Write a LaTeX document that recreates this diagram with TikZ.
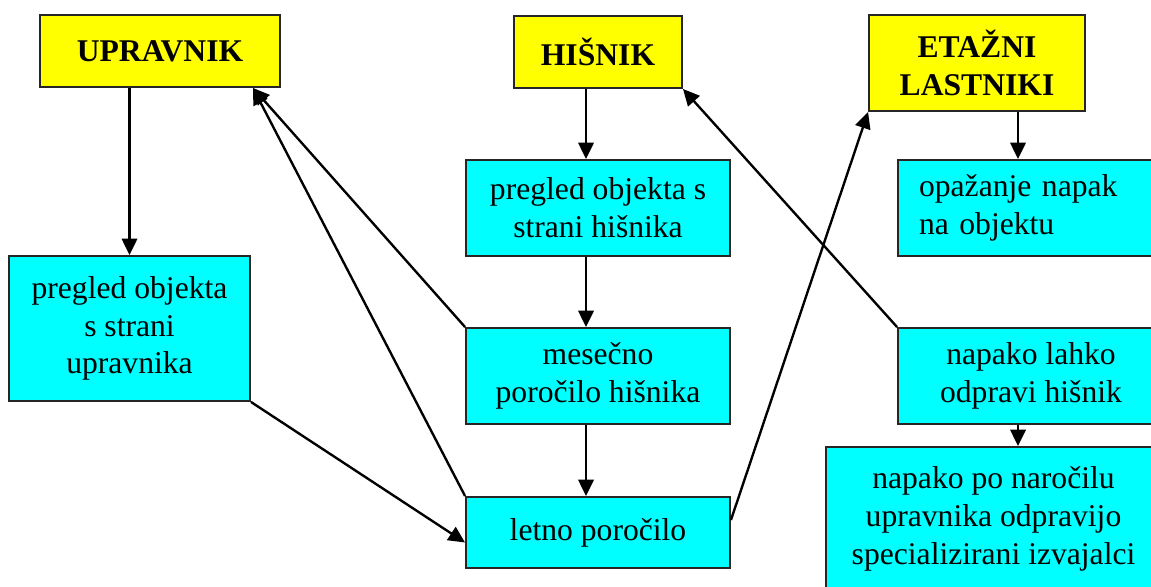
\documentclass[tikz,border=0pt]{standalone}
\usepackage{fontspec}
\setmainfont{Liberation Serif}
\usepackage{tikz}
\usetikzlibrary{arrows.meta,positioning,calc}
\definecolor{hdyellow}{HTML}{FFFF00}
\definecolor{boxcyan}{HTML}{00FFFF}
\tikzset{
  head/.style={rectangle, draw=black!85, line width=1.1pt, fill=hdyellow,
               align=center, inner sep=0pt, font=\fontsize{18}{21.5}\selectfont\bfseries},
  proc/.style={rectangle, draw=black!85, line width=1.1pt, fill=boxcyan,
               align=center, inner sep=0pt, font=\fontsize{18}{21.5}\selectfont},
  ar/.style={-{Triangle[length=3.3mm,width=3.1mm]}, line width=1.35pt}
}

\begin{document}
\begin{tikzpicture}[x=0.02cm, y=-0.02cm]
\useasboundingbox (0,0) rectangle (1151,587);
\clip (0,0) rectangle (1151,587);
% heads
\node[head, minimum width=4.8cm, minimum height=1.44cm] (upr) at (160,51) {UPRAVNIK};
\node[head, minimum width=3.36cm, minimum height=1.44cm] (his) at (598,52) {HIŠNIK};
\node[head, minimum width=4.32cm, minimum height=1.92cm] (eta) at (977,63) {ETAŽNI\\LASTNIKI};
% left column
\node[proc, minimum width=4.82cm, minimum height=2.9cm] (pu) at (129.5,328.5) {pregled objekta\\s strani\\upravnika};
% middle column
\node[proc, minimum width=5.28cm, minimum height=1.92cm] (ph) at (598,208) {pregled objekta s\\strani hišnika};
\node[proc, minimum width=5.28cm, minimum height=1.92cm] (mes) at (598,376) {mesečno\\poročilo hišnika};
\node[proc, minimum width=5.28cm, minimum height=1.42cm] (let) at (598,532.5) {letno poročilo};
% right column
\node[proc, minimum width=5.32cm, minimum height=1.92cm, text width=4.48cm, align=left] (opa) at (1031,208) {opažanje napak\\na objektu};
\node[proc, minimum width=5.32cm, minimum height=1.92cm] (nl) at (1031,376) {napako lahko\\odpravi hišnik};
\node[proc, minimum width=6.7cm, minimum height=2.88cm] (np) at (993.5,519) {napako po naročilu\\upravnika odpravijo\\specializirani izvajalci};
\coordinate (uin) at ([xshift=-0.56cm]upr.south east);
% connectors
\draw[ar] (pu.north |- upr.south) -- (pu.north);
\draw[ar] ([xshift=-0.24cm]his.south) -- ([xshift=-0.24cm]ph.north);
\draw[ar] ([xshift=-0.24cm]ph.south) -- ([xshift=-0.24cm]mes.north);
\draw[ar] ([xshift=-0.24cm]mes.south) -- ([xshift=-0.24cm]let.north);
\draw[ar] ([xshift=0.82cm]eta.south) -- ([xshift=0.82cm]eta.south |- opa.north);
\draw[ar] ([xshift=-0.26cm]nl.south) -- ([xshift=-0.26cm]nl.south |- np.north);
\draw[ar] (pu.south east) -- ([yshift=-0.2cm]let.west);
\draw[ar] (mes.north west) -- (uin);
\draw[ar] (let.north west) -- (uin);
\draw[ar] (nl.north west) -- (his.south east);
\draw[ar] ([yshift=0.25cm]let.east) -- (eta.south west);
\end{tikzpicture}
\end{document}
